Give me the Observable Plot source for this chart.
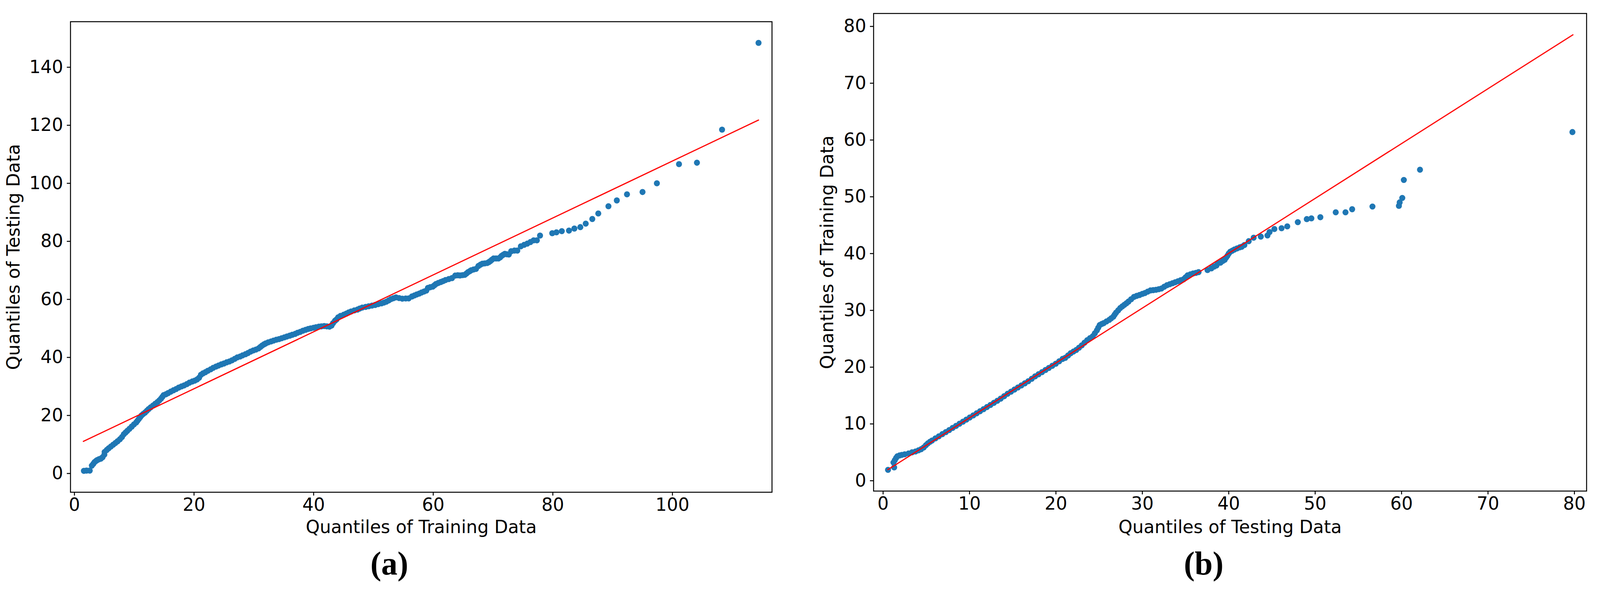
<!DOCTYPE html>
<html>
<head>
<meta charset="utf-8">
<script src="https://cdn.jsdelivr.net/npm/d3@7"></script>
<script src="https://cdn.jsdelivr.net/npm/@observablehq/plot@0.6"></script>
<style>
html, body { margin: 0; padding: 0; background: #fff; overflow: hidden; }
#wrap { position: absolute; left: 0; top: 0; width: 4142px; height: 1525px; background: #fff; overflow: hidden; transform-origin: 0 0; }
.panel { position: absolute; top: 0; }
.cap { position: absolute; font-family: "Liberation Serif", "DejaVu Serif", serif; font-weight: bold; font-size: 84px; line-height: 84px; color: #000; transform: translateX(-50%); white-space: nowrap; }
</style>
</head>
<body>
<div id="wrap">
  <div id="pa" class="panel" style="left:0px"></div>
  <div id="pb" class="panel" style="left:2060px"></div>
  <div class="cap" style="left:1008px; top:1400px">(a)</div>
  <div class="cap" style="left:3116px; top:1400px">(b)</div>
</div>
<script>
// ---------- Panel (a): quantiles of training (x) vs testing (y) ----------
const qqA = [
  [1.58,0.9],[2.02,1.0],[2.56,1.0],[2.91,2.7],[3.15,3.3],[3.36,3.9],[3.6,4.3],[3.8,4.6],[4.1,4.9],[4.4,5.1],
  [4.7,5.6],[5.0,6.5],[5.05,7.4],[5.4,8.1],[5.73,8.7],[6.1,9.3],[6.47,9.9],[6.85,10.5],[7.21,11.1],[7.6,11.8],
  [7.95,12.55],[8.25,13.5],[8.55,14.1],[8.84,14.7],[9.2,15.4],[9.58,16.15],[9.95,16.9],[10.33,17.6],[10.55,18.2],[10.77,18.8],
  [11.0,19.4],[11.22,20.0],[11.5,20.5],[11.81,21.0],[12.1,21.6],[12.4,22.2],[12.75,22.8],[13.14,23.4],[13.5,24.0],[13.89,24.6],
  [14.2,25.2],[14.48,25.8],[14.7,26.4],[14.92,27.0],[15.3,27.3],[15.66,27.7],[16.1,28.2],[16.55,28.67],[17.0,29.1],[17.44,29.6],
  [17.9,30.0],[18.33,30.35],[18.8,30.8],[19.22,31.3],[19.7,31.7],[20.11,32.0],[20.5,32.4],[20.85,33.0],[21.15,34.0],[21.5,34.5],
  [21.89,34.9],[22.3,35.4],[22.78,35.9],[23.2,36.4],[23.67,36.85],[24.1,37.2],[24.56,37.6],[25.0,37.9],[25.45,38.3],[25.9,38.6],
  [26.34,39.0],[26.8,39.5],[27.23,40.0],[27.7,40.3],[28.12,40.7],[28.6,41.1],[29.01,41.5],[29.45,42.0],[29.9,42.4],[30.35,42.7],
  [30.79,43.1],[31.1,43.6],[31.38,44.07],[31.7,44.5],[31.97,44.8],[32.4,45.2],[32.87,45.5],[33.3,45.8],[33.76,46.1],[34.2,46.3],
  [34.65,46.6],[35.1,46.9],[35.53,47.2],[36.0,47.5],[36.42,47.8],[36.9,48.1],[37.31,48.5],[37.75,48.8],[38.2,49.2],[38.65,49.5],
  [39.09,49.8],[39.5,50.0],[39.98,50.2],[40.4,50.4],[40.87,50.6],[41.3,50.7],[41.76,50.8],[42.2,50.7],[42.65,50.6],[43.0,51.0],
  [43.24,51.8],[43.58,52.65],[43.84,53.1],[44.1,53.8],[44.5,54.3],[45.02,54.7],[45.45,55.1],[45.85,55.5],[46.26,55.82],[46.8,56.2],
  [47.33,56.49],[47.7,56.85],[48.13,57.17],[48.7,57.4],[49.2,57.62],[49.75,57.85],[50.28,58.07],[50.8,58.35],[51.35,58.62],[51.75,58.9],
  [52.15,59.2],[52.55,59.65],[52.95,60.1],[53.35,60.4],[53.76,60.69],[54.3,60.45],[54.83,60.24],[55.4,60.3],[55.9,60.33],[56.44,61.0],
  [56.85,61.35],[57.24,61.69],[57.65,62.0],[58.04,62.37],[58.45,62.7],[58.85,63.04],[59.11,63.95],[59.5,64.2],[59.92,64.4],[60.2,64.85],
  [60.45,65.3],[60.85,65.65],[61.26,65.98],[61.65,66.3],[62.06,66.66],[62.6,67.0],[63.13,67.33],[63.67,68.2],[64.1,68.3],[64.47,68.24],
  [64.9,68.35],[65.27,68.46],[65.55,68.9],[65.81,69.37],[66.1,69.7],[66.35,70.04],[66.75,70.3],[67.15,70.5],[67.55,71.5],[67.9,71.95],
  [68.22,72.3],[68.6,72.4],[69.02,72.53],[69.3,72.85],[69.56,73.2],[69.8,73.65],[70.1,74.1],[70.5,74.1],[70.9,74.1],[71.2,74.5],
  [71.43,75.0],[71.7,75.35],[71.97,75.69],[72.3,75.55],[72.64,75.46],[73.04,76.59],[73.58,76.82],[74.06,76.82],[74.65,78.3],[75.2,78.8],
  [75.72,79.21],[76.25,79.75],[76.79,80.34],[77.33,80.34],[77.86,82.0],[79.9,82.8],[80.6,83.1],[81.5,83.5],[82.7,83.7],[83.6,84.4],
  [84.6,84.9],[85.5,86.1],[86.6,87.7],[87.6,89.6],[89.3,92.1],[90.7,94.1],[92.4,96.2],[95.0,97.0],[97.4,100.0],[101.1,106.6],
  [104.1,107.1],[108.3,118.5],[114.4,148.4]
];
const refLineA = [[1.49, 11.06], [114.4, 121.8]];
const xTicksA = [0, 20, 40, 60, 80, 100];
const yTicksA = [0, 20, 40, 60, 80, 100, 120, 140];
const xLabelA = "Quantiles of Training Data";
const yLabelA = "Quantiles of Testing Data";

// ---------- Panel (b): quantiles of testing (x) vs training (y) ----------
const qqB = [
  [0.57,1.91],[1.28,2.35],[1.2,3.2],[1.35,3.6],[1.5,4.0],[1.65,4.3],[1.9,4.45],[2.16,4.55],[2.5,4.65],[2.95,4.8],
  [3.35,5.0],[3.75,5.15],[4.1,5.35],[4.4,5.55],[4.7,5.85],[4.95,6.25],[5.18,6.58],[5.42,6.85],[5.66,7.07],[6.05,7.45],
  [6.45,7.81],[6.85,8.2],[7.25,8.55],[7.65,8.92],[8.04,9.29],[8.44,9.65],[8.84,10.03],[9.24,10.4],[9.63,10.76],[10.03,11.13],
  [10.43,11.5],[10.83,11.87],[11.22,12.24],[11.62,12.6],[12.02,12.97],[12.42,13.34],[12.82,13.71],[13.22,14.08],[13.61,14.45],[14.01,14.88],
  [14.41,15.31],[14.8,15.68],[15.2,16.05],[15.6,16.42],[16.0,16.78],[16.4,17.15],[16.8,17.52],[17.2,17.95],[17.59,18.38],[17.99,18.75],
  [18.39,19.12],[18.79,19.5],[19.18,19.86],[19.58,20.23],[19.98,20.6],[20.38,21.03],[20.77,21.45],[21.08,21.64],[21.4,22.05],[21.71,22.45],
  [22.03,22.75],[22.35,23.02],[22.67,23.42],[22.99,23.83],[23.3,24.3],[23.62,24.75],[23.94,25.1],[24.26,25.44],[24.5,25.95],[24.74,26.48],
  [24.9,26.95],[25.06,27.4],[25.3,27.6],[25.53,27.75],[25.85,28.05],[26.17,28.32],[26.4,28.6],[26.65,28.9],[26.8,29.25],[26.96,29.59],
  [27.2,30.0],[27.44,30.4],[27.68,30.7],[27.92,30.97],[28.16,31.25],[28.4,31.55],[28.7,31.95],[29.03,32.36],[29.35,32.55],[29.67,32.7],
  [30.0,32.9],[30.3,33.05],[30.62,33.3],[30.94,33.51],[31.26,33.56],[31.58,33.62],[31.9,33.73],[32.21,33.85],[32.53,34.15],[32.85,34.43],
  [33.17,34.6],[33.49,34.78],[33.8,34.95],[34.12,35.12],[34.44,35.3],[34.76,35.47],[35.0,35.8],[35.24,36.16],[35.55,36.33],[35.87,36.5],
  [36.2,36.6],[36.51,36.73],[37.54,37.1],[37.99,37.4],[38.3,37.7],[38.58,37.9],[38.74,38.3],[39.05,38.4],[39.3,38.7],[39.53,38.9],
  [39.7,39.3],[39.85,39.62],[40.0,40.0],[40.17,40.31],[40.4,40.5],[40.64,40.7],[40.95,40.9],[41.28,41.1],[41.5,41.2],[41.81,41.5],
  [42.31,42.18],[42.88,42.79],[43.71,42.99],[44.48,43.19],[44.72,43.79],[45.28,44.33],[46.11,44.46],[46.77,44.79],[47.99,45.53],[49.03,46.07],
  [49.56,46.2],[50.6,46.4],[52.38,47.27],[53.51,47.27],[54.28,47.81],[56.63,48.28],[59.69,48.41],[59.78,49.01],[60.08,49.8],[60.26,52.96],
  [62.13,54.77],[79.77,61.4]
];
const refLineB = [[0.55, 1.95], [79.83, 78.53]];
const xTicksB = [0, 10, 20, 30, 40, 50, 60, 70, 80];
const yTicksB = [0, 10, 20, 30, 40, 50, 60, 70, 80];
const xLabelB = "Quantiles of Testing Data";
const yLabelB = "Quantiles of Training Data";

const DOT_COLOR = "#1f77b4";

function drawPanel(el, cfg) {
  const pts = cfg.pts.map(([x, y]) => ({x, y}));
  const ref = cfg.ref.map(([x, y]) => ({x, y}));
  const chart = Plot.plot({
    width: cfg.width,
    height: cfg.height,
    marginLeft: cfg.ml, marginRight: cfg.mr, marginTop: cfg.mt, marginBottom: cfg.mb,
    style: {fontFamily: "DejaVu Sans", fontSize: "46px", color: "#000", background: "#fff", overflow: "visible", maxWidth: "none"},
    x: {domain: cfg.xd},
    y: {domain: cfg.yd},
    marks: [
      Plot.dot(pts, {x: "x", y: "y", r: 7.8, fill: DOT_COLOR}),
      Plot.line(ref, {x: "x", y: "y", stroke: "#ff0000", strokeWidth: 3}),
      Plot.axisX({ticks: cfg.xt, tickSize: 9, tickPadding: 6, strokeWidth: 2.5, tickFormat: d => String(d),
        label: cfg.xl, labelAnchor: "center", labelArrow: "none", labelOffset: cfg.xlo}),
      Plot.axisY({ticks: cfg.yt, tickSize: 9, tickPadding: 10, strokeWidth: 2.5, tickFormat: d => String(d),
        label: cfg.yl, labelAnchor: "center", labelArrow: "none", labelOffset: cfg.ylo}),
      Plot.frame({stroke: "#000", strokeWidth: 2.5})
    ]
  });
  el.appendChild(chart);
}

drawPanel(document.getElementById("pa"), {
  pts: qqA, ref: refLineA, xt: xTicksA, yt: yTicksA, xl: xLabelA, yl: yLabelA,
  width: 2060, height: 1400, ml: 182, mr: 62, mt: 55, mb: 141,
  xd: [-0.66, 116.65], yd: [-6.46, 155.7], xlo: 104, ylo: 165
});
drawPanel(document.getElementById("pb"), {
  pts: qqB, ref: refLineB, xt: xTicksB, yt: yTicksB, xl: xLabelB, yl: yLabelB,
  width: 2082, height: 1400, ml: 201, mr: 35.2, mt: 34, mb: 144,
  xd: [-1.10, 81.41], yd: [-1.82, 82.28], xlo: 107, ylo: 137
});

// fit the 4142x1525 design exactly into the actual viewport
function fitToViewport() {
  const w = window.innerWidth, h = window.innerHeight;
  if (w > 0 && h > 0) {
    document.getElementById("wrap").style.transform = `scale(${w / 4142}, ${h / 1525})`;
  }
}
fitToViewport();
window.addEventListener("resize", fitToViewport);
</script>
</body>
</html>
